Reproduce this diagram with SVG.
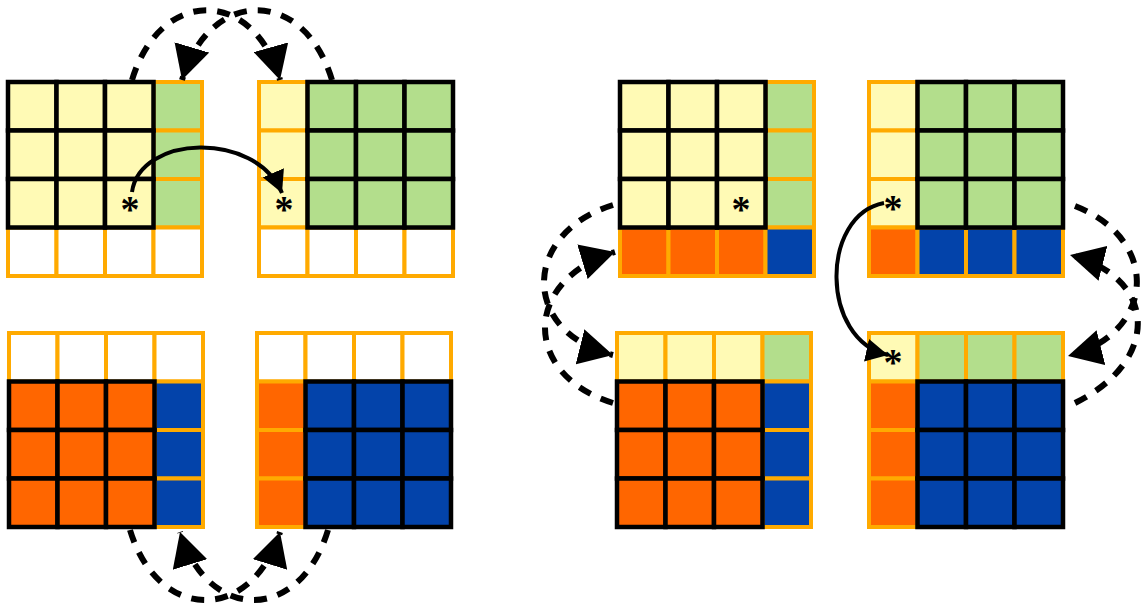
<svg xmlns="http://www.w3.org/2000/svg" width="1142" height="607" viewBox="0 0 1142 607">
<style>
rect{stroke-width:4}
.ob{stroke:#FFAA00}
.bk{stroke:#000;stroke-width:4.5}
.y{fill:#FFFAB5}
.g{fill:#B3DE8C}
.w{fill:#FFFFFF}
.o{fill:#FF6600}
.b{fill:#0343AA}
.ast{font-family:"Liberation Serif",serif;font-weight:bold;font-size:38px;fill:#000;text-anchor:middle}
.dash{fill:none;stroke:#000;stroke-width:6;stroke-dasharray:13,11}
.solid{fill:none;stroke:#000;stroke-width:4}
</style>
<defs>
<marker id="big" markerUnits="userSpaceOnUse" markerWidth="34" markerHeight="36" refX="34" refY="18" orient="auto" viewBox="0 0 34 36"><path d="M0,0 L34,18 L0,36 z" fill="#000"/></marker>
<marker id="small" markerUnits="userSpaceOnUse" markerWidth="22" markerHeight="23" refX="22" refY="11.5" orient="auto" viewBox="0 0 22 23"><path d="M0,0 L22,11.5 L0,23 z" fill="#000"/></marker>
</defs>
<rect width="1142" height="607" fill="#fff" stroke="none"/>

<g id="grid1" transform="translate(8,82)">
<rect class="g ob" x="145.5" y="0" width="48.5" height="48.5"/>
<rect class="g ob" x="145.5" y="48.5" width="48.5" height="48.5"/>
<rect class="g ob" x="145.5" y="97" width="48.5" height="48.5"/>
<rect class="w ob" x="0" y="145.5" width="48.5" height="48.5"/>
<rect class="w ob" x="48.5" y="145.5" width="48.5" height="48.5"/>
<rect class="w ob" x="97" y="145.5" width="48.5" height="48.5"/>
<rect class="w ob" x="145.5" y="145.5" width="48.5" height="48.5"/>
<rect class="y bk" x="0" y="0" width="48.5" height="48.5"/>
<rect class="y bk" x="48.5" y="0" width="48.5" height="48.5"/>
<rect class="y bk" x="97" y="0" width="48.5" height="48.5"/>
<rect class="y bk" x="0" y="48.5" width="48.5" height="48.5"/>
<rect class="y bk" x="48.5" y="48.5" width="48.5" height="48.5"/>
<rect class="y bk" x="97" y="48.5" width="48.5" height="48.5"/>
<rect class="y bk" x="0" y="97" width="48.5" height="48.5"/>
<rect class="y bk" x="48.5" y="97" width="48.5" height="48.5"/>
<rect class="y bk" x="97" y="97" width="48.5" height="48.5"/>
<text class="ast" x="122" y="140">*</text>
</g>

<g id="grid2" transform="translate(259,82)">
<rect class="y ob" x="0" y="0" width="48.5" height="48.5"/>
<rect class="y ob" x="0" y="48.5" width="48.5" height="48.5"/>
<rect class="y ob" x="0" y="97" width="48.5" height="48.5"/>
<rect class="w ob" x="0" y="145.5" width="48.5" height="48.5"/>
<rect class="w ob" x="48.5" y="145.5" width="48.5" height="48.5"/>
<rect class="w ob" x="97" y="145.5" width="48.5" height="48.5"/>
<rect class="w ob" x="145.5" y="145.5" width="48.5" height="48.5"/>
<rect class="g bk" x="48.5" y="0" width="48.5" height="48.5"/>
<rect class="g bk" x="97" y="0" width="48.5" height="48.5"/>
<rect class="g bk" x="145.5" y="0" width="48.5" height="48.5"/>
<rect class="g bk" x="48.5" y="48.5" width="48.5" height="48.5"/>
<rect class="g bk" x="97" y="48.5" width="48.5" height="48.5"/>
<rect class="g bk" x="145.5" y="48.5" width="48.5" height="48.5"/>
<rect class="g bk" x="48.5" y="97" width="48.5" height="48.5"/>
<rect class="g bk" x="97" y="97" width="48.5" height="48.5"/>
<rect class="g bk" x="145.5" y="97" width="48.5" height="48.5"/>
<text class="ast" x="25" y="140">*</text>
</g>

<g id="grid3" transform="translate(9,333)">
<rect class="w ob" x="0" y="0" width="48.5" height="48.5"/>
<rect class="w ob" x="48.5" y="0" width="48.5" height="48.5"/>
<rect class="w ob" x="97" y="0" width="48.5" height="48.5"/>
<rect class="w ob" x="145.5" y="0" width="48.5" height="48.5"/>
<rect class="b ob" x="145.5" y="48.5" width="48.5" height="48.5"/>
<rect class="b ob" x="145.5" y="97" width="48.5" height="48.5"/>
<rect class="b ob" x="145.5" y="145.5" width="48.5" height="48.5"/>
<rect class="o bk" x="0" y="48.5" width="48.5" height="48.5"/>
<rect class="o bk" x="48.5" y="48.5" width="48.5" height="48.5"/>
<rect class="o bk" x="97" y="48.5" width="48.5" height="48.5"/>
<rect class="o bk" x="0" y="97" width="48.5" height="48.5"/>
<rect class="o bk" x="48.5" y="97" width="48.5" height="48.5"/>
<rect class="o bk" x="97" y="97" width="48.5" height="48.5"/>
<rect class="o bk" x="0" y="145.5" width="48.5" height="48.5"/>
<rect class="o bk" x="48.5" y="145.5" width="48.5" height="48.5"/>
<rect class="o bk" x="97" y="145.5" width="48.5" height="48.5"/>
</g>

<g id="grid4" transform="translate(257,333)">
<rect class="w ob" x="0" y="0" width="48.5" height="48.5"/>
<rect class="w ob" x="48.5" y="0" width="48.5" height="48.5"/>
<rect class="w ob" x="97" y="0" width="48.5" height="48.5"/>
<rect class="w ob" x="145.5" y="0" width="48.5" height="48.5"/>
<rect class="o ob" x="0" y="48.5" width="48.5" height="48.5"/>
<rect class="o ob" x="0" y="97" width="48.5" height="48.5"/>
<rect class="o ob" x="0" y="145.5" width="48.5" height="48.5"/>
<rect class="b bk" x="48.5" y="48.5" width="48.5" height="48.5"/>
<rect class="b bk" x="97" y="48.5" width="48.5" height="48.5"/>
<rect class="b bk" x="145.5" y="48.5" width="48.5" height="48.5"/>
<rect class="b bk" x="48.5" y="97" width="48.5" height="48.5"/>
<rect class="b bk" x="97" y="97" width="48.5" height="48.5"/>
<rect class="b bk" x="145.5" y="97" width="48.5" height="48.5"/>
<rect class="b bk" x="48.5" y="145.5" width="48.5" height="48.5"/>
<rect class="b bk" x="97" y="145.5" width="48.5" height="48.5"/>
<rect class="b bk" x="145.5" y="145.5" width="48.5" height="48.5"/>
</g>

<g id="grid5" transform="translate(620,82)">
<rect class="g ob" x="145.5" y="0" width="48.5" height="48.5"/>
<rect class="g ob" x="145.5" y="48.5" width="48.5" height="48.5"/>
<rect class="g ob" x="145.5" y="97" width="48.5" height="48.5"/>
<rect class="o ob" x="0" y="145.5" width="48.5" height="48.5"/>
<rect class="o ob" x="48.5" y="145.5" width="48.5" height="48.5"/>
<rect class="o ob" x="97" y="145.5" width="48.5" height="48.5"/>
<rect class="b ob" x="145.5" y="145.5" width="48.5" height="48.5"/>
<rect class="y bk" x="0" y="0" width="48.5" height="48.5"/>
<rect class="y bk" x="48.5" y="0" width="48.5" height="48.5"/>
<rect class="y bk" x="97" y="0" width="48.5" height="48.5"/>
<rect class="y bk" x="0" y="48.5" width="48.5" height="48.5"/>
<rect class="y bk" x="48.5" y="48.5" width="48.5" height="48.5"/>
<rect class="y bk" x="97" y="48.5" width="48.5" height="48.5"/>
<rect class="y bk" x="0" y="97" width="48.5" height="48.5"/>
<rect class="y bk" x="48.5" y="97" width="48.5" height="48.5"/>
<rect class="y bk" x="97" y="97" width="48.5" height="48.5"/>
<text class="ast" x="121" y="140">*</text>
</g>

<g id="grid6" transform="translate(869,82)">
<rect class="y ob" x="0" y="0" width="48.5" height="48.5"/>
<rect class="y ob" x="0" y="48.5" width="48.5" height="48.5"/>
<rect class="y ob" x="0" y="97" width="48.5" height="48.5"/>
<rect class="o ob" x="0" y="145.5" width="48.5" height="48.5"/>
<rect class="b ob" x="48.5" y="145.5" width="48.5" height="48.5"/>
<rect class="b ob" x="97" y="145.5" width="48.5" height="48.5"/>
<rect class="b ob" x="145.5" y="145.5" width="48.5" height="48.5"/>
<rect class="g bk" x="48.5" y="0" width="48.5" height="48.5"/>
<rect class="g bk" x="97" y="0" width="48.5" height="48.5"/>
<rect class="g bk" x="145.5" y="0" width="48.5" height="48.5"/>
<rect class="g bk" x="48.5" y="48.5" width="48.5" height="48.5"/>
<rect class="g bk" x="97" y="48.5" width="48.5" height="48.5"/>
<rect class="g bk" x="145.5" y="48.5" width="48.5" height="48.5"/>
<rect class="g bk" x="48.5" y="97" width="48.5" height="48.5"/>
<rect class="g bk" x="97" y="97" width="48.5" height="48.5"/>
<rect class="g bk" x="145.5" y="97" width="48.5" height="48.5"/>
<text class="ast" x="24" y="139">*</text>
</g>

<g id="grid7" transform="translate(617,333)">
<rect class="y ob" x="0" y="0" width="48.5" height="48.5"/>
<rect class="y ob" x="48.5" y="0" width="48.5" height="48.5"/>
<rect class="y ob" x="97" y="0" width="48.5" height="48.5"/>
<rect class="g ob" x="145.5" y="0" width="48.5" height="48.5"/>
<rect class="b ob" x="145.5" y="48.5" width="48.5" height="48.5"/>
<rect class="b ob" x="145.5" y="97" width="48.5" height="48.5"/>
<rect class="b ob" x="145.5" y="145.5" width="48.5" height="48.5"/>
<rect class="o bk" x="0" y="48.5" width="48.5" height="48.5"/>
<rect class="o bk" x="48.5" y="48.5" width="48.5" height="48.5"/>
<rect class="o bk" x="97" y="48.5" width="48.5" height="48.5"/>
<rect class="o bk" x="0" y="97" width="48.5" height="48.5"/>
<rect class="o bk" x="48.5" y="97" width="48.5" height="48.5"/>
<rect class="o bk" x="97" y="97" width="48.5" height="48.5"/>
<rect class="o bk" x="0" y="145.5" width="48.5" height="48.5"/>
<rect class="o bk" x="48.5" y="145.5" width="48.5" height="48.5"/>
<rect class="o bk" x="97" y="145.5" width="48.5" height="48.5"/>
</g>

<g id="grid8" transform="translate(869,333)">
<rect class="y ob" x="0" y="0" width="48.5" height="48.5"/>
<rect class="g ob" x="48.5" y="0" width="48.5" height="48.5"/>
<rect class="g ob" x="97" y="0" width="48.5" height="48.5"/>
<rect class="g ob" x="145.5" y="0" width="48.5" height="48.5"/>
<rect class="o ob" x="0" y="48.5" width="48.5" height="48.5"/>
<rect class="o ob" x="0" y="97" width="48.5" height="48.5"/>
<rect class="o ob" x="0" y="145.5" width="48.5" height="48.5"/>
<rect class="b bk" x="48.5" y="48.5" width="48.5" height="48.5"/>
<rect class="b bk" x="97" y="48.5" width="48.5" height="48.5"/>
<rect class="b bk" x="145.5" y="48.5" width="48.5" height="48.5"/>
<rect class="b bk" x="48.5" y="97" width="48.5" height="48.5"/>
<rect class="b bk" x="97" y="97" width="48.5" height="48.5"/>
<rect class="b bk" x="145.5" y="97" width="48.5" height="48.5"/>
<rect class="b bk" x="48.5" y="145.5" width="48.5" height="48.5"/>
<rect class="b bk" x="97" y="145.5" width="48.5" height="48.5"/>
<rect class="b bk" x="145.5" y="145.5" width="48.5" height="48.5"/>
<text class="ast" x="24" y="42">*</text>
</g>

<g id="connectors">
<path class="dash" d="M132,80 C160,-13 254,-13 280,80" marker-end="url(#big)"/>
<path class="dash" d="M332,80 C304,-13 210,-13 182,80" marker-end="url(#big)"/>
<path class="dash" d="M130,530 C158,623 252,623 280,532" marker-end="url(#big)"/>
<path class="dash" d="M328,530 C300,623 208,623 180,532" marker-end="url(#big)"/>
<path class="dash" d="M613,205 C522,233 520,332 613,355" marker-end="url(#big)"/>
<path class="dash" d="M613,403 C522,375 522,280 615,252" marker-end="url(#big)"/>
<path class="dash" d="M1075,206 C1162,240 1155,334 1068,356" marker-end="url(#big)"/>
<path class="dash" d="M1075,403 C1162,360 1157,277 1070,255" marker-end="url(#big)"/>
<path class="solid" d="M132,192 C140,135 255,130 282,193" marker-end="url(#small)"/>
<path class="solid" d="M884,203 C820,215 820,340 888,355" marker-end="url(#small)"/>
</g>
</svg>
